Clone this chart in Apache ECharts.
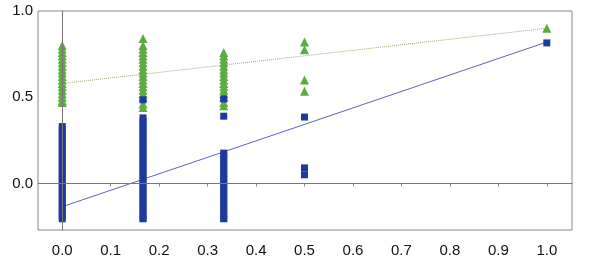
<!DOCTYPE html>
<html><head><meta charset="utf-8">
<script src="https://cdn.jsdelivr.net/npm/echarts@6/dist/echarts.min.js"></script>
<style>html,body{margin:0;padding:0;background:#fff}#c{width:598px;height:260px}</style>
</head><body><div id="c"></div>
<script>
// x positions of the data columns
const columnX = [0, 0.1667, 0.3333, 0.5, 1.0];
// green triangles per column
const greenCol0 = [0.80,0.78,0.76,0.74,0.72,0.70,0.68,0.66,0.64,0.62,0.60,0.58,0.56,0.54,0.52,0.50,0.48,0.47];
const greenCol1 = [0.84,0.80,0.78,0.76,0.74,0.72,0.70,0.68,0.66,0.64,0.62,0.60,0.58,0.56,0.54,0.52,0.50,0.46,0.44];
const greenCol2 = [0.76,0.74,0.72,0.70,0.68,0.66,0.64,0.62,0.60,0.58,0.56,0.54,0.52,0.50,0.47,0.45];
const greenCol3 = [0.82,0.775,0.60,0.535];
const greenCol4 = [0.90];
// blue squares per column
const blueCol0 = [0.33,0.31,0.29,0.27,0.25,0.23,0.21,0.19,0.17,0.15,0.13,0.11,0.09,0.07,0.05,0.03,0.01,-0.01,-0.03,-0.05,-0.07,-0.09,-0.11,-0.13,-0.15,-0.17,-0.19,-0.205];
const blueCol1 = [0.485,0.38,0.36,0.34,0.32,0.30,0.28,0.26,0.24,0.22,0.20,0.18,0.16,0.14,0.12,0.10,0.08,0.06,0.04,0.02,0.00,-0.02,-0.04,-0.06,-0.08,-0.10,-0.12,-0.14,-0.16,-0.18,-0.20,-0.205];
const blueCol2 = [0.49,0.39,0.176,0.16,0.14,0.12,0.10,0.08,0.06,0.04,0.02,0.00,-0.02,-0.04,-0.06,-0.08,-0.10,-0.12,-0.14,-0.16,-0.18,-0.20,-0.205];
const blueCol3 = [0.385,0.09,0.05];
const blueCol4 = [0.815];
// fitted trend lines (endpoints)
const fitX = [0, 1];
const greenFitY = [0.58, 0.90];
const blueFitY = [-0.135, 0.82];
// tick labels
const xTicks = [0.0,0.1,0.2,0.3,0.4,0.5,0.6,0.7,0.8,0.9,1.0];
const yTicks = [0.0,0.5,1.0];

const greenCols = [greenCol0,greenCol1,greenCol2,greenCol3,greenCol4];
const blueCols = [blueCol0,blueCol1,blueCol2,blueCol3,blueCol4];
function pairs(cols){const out=[];cols.forEach((c,i)=>c.forEach(v=>out.push([columnX[i],v])));return out;}
const greenData = pairs(greenCols);
const blueData = pairs(blueCols);
const greenFit = fitX.map((x,i)=>[x,greenFitY[i]]);
const blueFit = fitX.map((x,i)=>[x,blueFitY[i]]);

const chart = echarts.init(document.getElementById('c'), null, {renderer:'canvas'});
const font = {fontFamily:'Liberation Sans, Arial, sans-serif', fontSize:15, color:'#111'};
chart.setOption({
  animation:false,
  backgroundColor:'#fff',
  grid:{left:38,right:26,top:11,bottom:30,show:true,borderColor:'#888',borderWidth:1,backgroundColor:'transparent'},
  xAxis:{type:'value',min:-0.05,max:1.052,
    axisLine:{show:true,lineStyle:{color:'#777'}},
    axisTick:{show:true,customValues:xTicks,length:3,inside:false,lineStyle:{color:'#888'}},
    splitLine:{show:false},
    axisLabel:Object.assign({customValues:xTicks,margin:13,formatter:v=>v.toFixed(1)},font)},
  yAxis:{type:'value',min:-0.27,max:1.0,
    axisLine:{show:true,lineStyle:{color:'#777'}},
    axisTick:{show:false},
    splitLine:{show:false},
    axisLabel:Object.assign({customValues:yTicks,margin:5,formatter:v=>v.toFixed(1)},font)},
  series:[
    {type:'line',data:greenFit,symbol:'none',silent:true,z:1,
     lineStyle:{color:'#a8a870',width:1,type:'dotted'},
     markLine:{silent:true,symbol:'none',label:{show:false},
       lineStyle:{color:'#777',width:1,type:'solid'},
       data:[{yAxis:0},{xAxis:0}]}},
    {type:'line',data:blueFit,symbol:'none',silent:true,z:1,
     lineStyle:{color:'#5a66b8',width:1,type:'solid'}},
    {type:'scatter',data:greenData,symbol:'triangle',symbolSize:9,z:3,
     itemStyle:{color:'#5cac42',opacity:1}},
    {type:'scatter',data:blueData,symbol:'rect',symbolSize:7,z:4,
     itemStyle:{color:'#1e3a9e',opacity:1}}
  ]
});
</script></body></html>
